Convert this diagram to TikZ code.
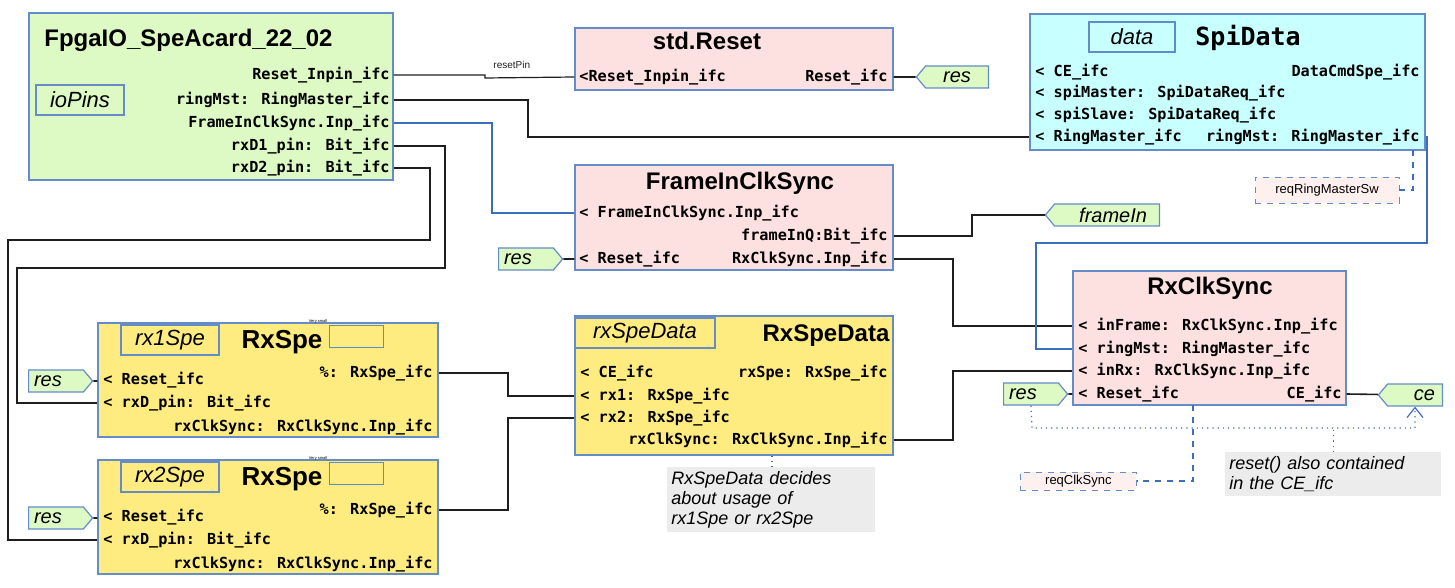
\documentclass[tikz,border=0pt]{standalone}
\usepackage{fontspec}
\setmainfont{Liberation Sans}
\newfontfamily\portfont{DejaVu Sans Mono}
\usetikzlibrary{fit,shapes.symbols,arrows.meta}
\definecolor{lime}{RGB}{221,250,196}
\definecolor{rose}{RGB}{253,224,224}
\definecolor{aqua}{RGB}{200,255,255}
\definecolor{sand}{RGB}{255,236,128}
\definecolor{edge}{RGB}{100,140,200}
\definecolor{wire}{RGB}{30,30,30}
\definecolor{bwire}{RGB}{60,110,190}
\begin{document}
\begin{tikzpicture}[x=0.5pt,y=-0.5pt,
    blk/.style={draw=edge, line width=0.6pt, inner sep=0},
    lbl/.style={draw=edge, line width=0.6pt, inner sep=0, font=\itshape\fontsize{11}{11}\selectfont},
    ttl/.style={font=\bfseries\fontsize{12}{12}\selectfont, inner sep=0},
    pl/.style={anchor=west, inner sep=0, font=\portfont\bfseries\fontsize{7.6}{8}\selectfont},
    pr/.style={anchor=east, inner sep=0, font=\portfont\bfseries\fontsize{7.6}{8}\selectfont},
    flag/.style={signal, draw=edge, fill=lime, line width=0.6pt, inner sep=1pt,
      minimum height=11pt, font=\itshape\fontsize{10}{10}\selectfont, signal pointer angle=100},
    fr/.style={flag, signal to=east, text width=22pt, minimum width=32pt},
    fl/.style={flag, signal to=west, align=right},
    ln/.style={draw=wire, line width=0.8pt},
    bln/.style={draw=bwire, line width=0.6pt},
    req/.style={draw=edge, dashed, fill=red!6, inner sep=1pt, font=\fontsize{6.5}{7}\selectfont},
    note/.style={fill=gray!15, inner sep=2pt, align=left, font=\itshape\fontsize{9}{10}\selectfont}]
  \useasboundingbox (0,0) rectangle (1455,588);

  % FpgaIO top block
  \node[blk, fill=lime, fit={(29,13)(393,180)}] (fpga) {};
  \node[ttl, anchor=west] at (44,40) {FpgaIO\_SpeAcard\_22\_02};
  \node[lbl, minimum width=44pt, minimum height=15pt] (iopins) at (80,100) {ioPins};
  \node[pr] (fRst) at (390,75) {Reset\_Inpin\_ifc};
  \node[pr] (fRing) at (390,100) {ringMst: RingMaster\_ifc};
  \node[pr] (fFrame) at (390,123) {FrameInClkSync.Inp\_ifc};
  \node[pr] (fRx1) at (390,146) {rxD1\_pin: Bit\_ifc};
  \node[pr] (fRx2) at (390,168) {rxD2\_pin: Bit\_ifc};

  % std.Reset
  \node[blk, fill=rose, fit={(575,28)(893,90)}] (reset) {};
  \node[ttl] at (707,41) {std.Reset};
  \node[pl] (rIn) at (579,77) {<Reset\_Inpin\_ifc};
  \node[pr] (rOut) at (888,77) {Reset\_ifc};
  \node[fl, minimum width=36pt] (resA) at (957,77) {res};

  % SpiData
  \node[blk, fill=aqua, fit={(1030,14)(1425,150)}] (spi) {};
  \node[lbl, minimum width=43pt, minimum height=15pt] at (1132,37) {data};
  \node[anchor=west, inner sep=0, font=\portfont\bfseries\fontsize{12.5}{13}\selectfont] at (1195,38) {SpiData};
  \node[pl] (sCe) at (1035,72) {< CE\_ifc};
  \node[pr] (sCmd) at (1420,72) {DataCmdSpe\_ifc};
  \node[pl] (sMst) at (1035,93) {< spiMaster: SpiDataReq\_ifc};
  \node[pl] (sSlv) at (1035,115) {< spiSlave: SpiDataReq\_ifc};
  \node[pl] (sRmIn) at (1035,137) {< RingMaster\_ifc};
  \node[pr] (sRing) at (1420,137) {ringMst: RingMaster\_ifc};
  \node[req, minimum width=72pt, minimum height=13pt] (reqRm) at (1327,190) {reqRingMasterSw};

  % FrameInClkSync
  \node[blk, fill=rose, fit={(575,165)(893,270)}] (fics) {};
  \node[ttl] at (740,183) {FrameInClkSync};
  \node[pl] (fiIn) at (579,213) {< FrameInClkSync.Inp\_ifc};
  \node[pr] (fiQ) at (888,236) {frameInQ:Bit\_ifc};
  \node[pl] (fiRst) at (579,259) {< Reset\_ifc};
  \node[pr] (fiOut) at (888,259) {RxClkSync.Inp\_ifc};
  \node[fr] (resB) at (526,259) {res};
  \node[fl, minimum width=57pt, text width=40pt] (frameIn) at (1107,215) {frameIn};

  % RxClkSync
  \node[blk, fill=rose, fit={(1073,271)(1346,405)}] (rcs) {};
  \node[ttl] at (1210,288) {RxClkSync};
  \node[pl] (cFrame) at (1078,326) {< inFrame: RxClkSync.Inp\_ifc};
  \node[pl] (cRing) at (1078,349) {< ringMst: RingMaster\_ifc};
  \node[pl] (cRx) at (1078,371) {< inRx: RxClkSync.Inp\_ifc};
  \node[pl] (cRst) at (1078,394) {< Reset\_ifc};
  \node[pr] (cCe) at (1342,394) {CE\_ifc};
  \node[fr] (resC) at (1031,394) {res};
  \node[fl, minimum width=32pt, text width=20pt] (ce) at (1415,395) {ce};
  \node[req, minimum width=58pt, minimum height=9pt, anchor=west] (reqCs) at (1020,481) {reqClkSync};
  \node[note, text width=104pt, anchor=north west] (noteCe) at (1225,452) {reset() also contained\\in the CE\_ifc};

  % RxSpe instances
  \foreach \n/\dy/\tag in {1/0/rx1Spe, 2/137/rx2Spe} {
    \node[blk, fill=sand, fit={(98,323+\dy)(438,437+\dy)}] (spe\n) {};
    \node[lbl, minimum width=49pt, minimum height=15pt] at (170,340+\dy) {\tag};
    \node[ttl, font=\bfseries\fontsize{13}{13}\selectfont] at (282,342+\dy) {RxSpe};
    \node[draw=edge, inner sep=0, minimum width=27pt, minimum height=11pt,
      label={[inner sep=0.5pt, font=\fontsize{2}{2}\selectfont]north west:Very small}, label position=north west]
      at (356,336+\dy) {};
    \node[pr] (sp\n Out) at (433,373+\dy) {\%: RxSpe\_ifc};
    \node[pl] (sp\n Rst) at (103,380+\dy) {< Reset\_ifc};
    \node[pl] (sp\n Rx) at (103,403+\dy) {< rxD\_pin: Bit\_ifc};
    \node[pr] (sp\n Clk) at (433,427+\dy) {rxClkSync: RxClkSync.Inp\_ifc};
    \node[fr] (res\n) at (56,381+\dy) {res};
    \draw[ln] (res\n) -- (spe\n.west |- res\n);
  }

  % RxSpeData
  \node[blk, fill=sand, fit={(575,316)(893,455)}] (rsd) {};
  \node[lbl, minimum width=70pt, minimum height=15pt] at (645,333) {rxSpeData};
  \node[ttl, font=\bfseries\fontsize{12}{12}\selectfont] at (826,336) {RxSpeData};
  \node[pl] (dCe) at (580,373) {< CE\_ifc};
  \node[pr] (dSpe) at (888,373) {rxSpe: RxSpe\_ifc};
  \node[pl] (dRx1) at (580,396) {< rx1: RxSpe\_ifc};
  \node[pl] (dRx2) at (580,418) {< rx2: RxSpe\_ifc};
  \node[pr] (dClk) at (888,440) {rxClkSync: RxClkSync.Inp\_ifc};
  \node[note, text width=100pt, anchor=north west] (noteRx) at (667,467) {RxSpeData decides\\about usage of\\rx1Spe or rx2Spe};

  % connectors
  \draw[ln, line width=0.6pt] (fpga.east |- fRst) -- (485,75) -- (485,78) -- (reset.west |- rIn)
    node[pos=0.3, above=1pt, font=\fontsize{5}{5}\selectfont, text=wire] {resetPin};
  \draw[ln] (fpga.east |- fRing) -- (528,100) |- (spi.west |- sRmIn);
  \draw[bln] (fpga.east |- fFrame) -- (492,123) |- (fics.west |- fiIn);
  \draw[ln] (fpga.east |- fRx1) -- (445,146) -- (445,268) -- (17,268) |- (spe1.west |- sp1Rx);
  \draw[ln] (fpga.east |- fRx2) -- (430,168) -- (430,240) -- (8,240) |- (spe2.west |- sp2Rx);
  \draw[ln] (reset.east |- rOut) -- (resA);
  \draw[ln] (resB) -- (fics.west |- resB);
  \draw[ln] (fics.east |- fiQ) -- (972,236) |- (frameIn);
  \draw[ln] (fics.east |- fiOut) -- (953,259) |- (rcs.west |- cFrame);
  \draw[bln] (spi.east |- sRing) -- (1427,137) -- (1427,243) -- (1036,243) |- (rcs.west |- cRing);
  \draw[ln] (rsd.east |- dClk) -- (953,440) |- (rcs.west |- cRx);
  \draw[ln] (spe1.east |- sp1Out) -- (508,373) |- (rsd.west |- dRx1);
  \draw[ln] (spe2.east |- sp2Out) -- (508,510) |- (rsd.west |- dRx2);
  \draw[ln] (resC) -- (rcs.west |- resC);
  \draw[ln] (rcs.east |- cCe) -- (ce);
  \draw[bln, dashed] (1413,150) |- (reqRm.east);
  \draw[bln, dashed] (1193,405) |- (reqCs.east);
  \draw[bln, dotted, -{Straight Barb[length=5pt,width=8pt]}] (resC.south) -- (1032,428) -| (ce.south);
  \draw[bln, dotted] (noteCe.north) -- (noteCe.north |- 0,428);
  \draw[bln, dotted] (noteRx.north -| 772,0) -- (rsd.south -| 772,0);
\end{tikzpicture}
\end{document}
